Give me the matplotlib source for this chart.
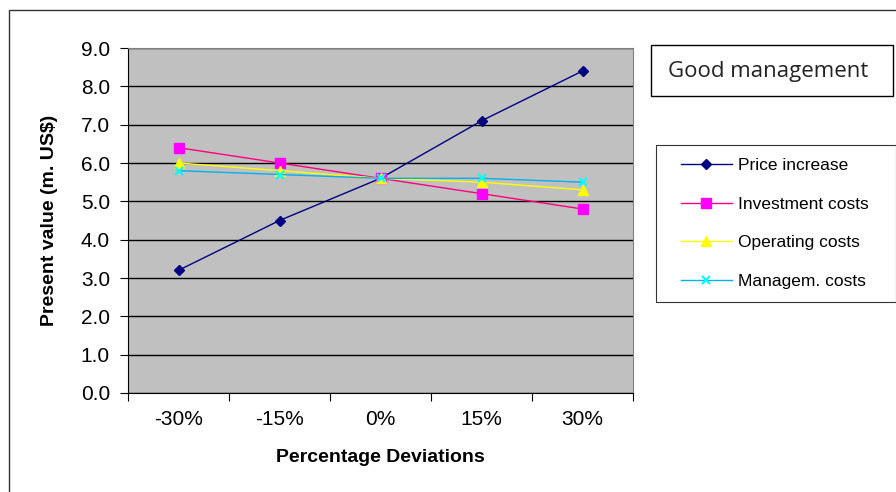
import matplotlib.pyplot as plt
from matplotlib.patches import Rectangle
from matplotlib.legend_handler import HandlerLine2D

plt.rcParams['font.family'] = ['Liberation Sans', 'DejaVu Sans']

# data
categories = ['-30%', '-15%', '0%', '15%', '30%']
price = [3.2, 4.5, 5.6, 7.1, 8.4]
investment = [6.4, 6.0, 5.6, 5.2, 4.8]
operating = [6.0, 5.8, 5.6, 5.5, 5.3]
managem = [5.8, 5.7, 5.6, 5.6, 5.5]

W, H = 896, 492
fig = plt.figure(figsize=(W / 100, H / 100), dpi=100)
ax = fig.add_axes([128/W, 1 - 393/H, (633 - 128)/W, (393 - 48)/H])
ax.set_facecolor('#C0C0C0')

x = list(range(len(categories)))
ax.plot(x, price, '-', color='#000080', lw=1, marker='D', ms=5, label='Price increase')
ax.plot(x, investment, '-', color='#FF0080', lw=1, marker='s', ms=7,
        mfc='#FF00FF', mec='#FF00FF', label='Investment costs')
ax.plot(x, operating, '-', color='#FFFF00', lw=1, marker='^', ms=7,
        mfc='#FFFF00', mec='#FFFF00', label='Operating costs')
ax.plot(x, managem, '-', color='#00B0F0', lw=1, marker='x', ms=6, mew=1.5,
        mec='#00FFFF', label='Managem. costs')

ax.set_ylim(0, 9)
ax.set_yticks(range(0, 10))
ax.set_yticklabels([f'{v:.1f}' for v in range(0, 10)], fontsize=15)
ax.yaxis.grid(True, color='black', lw=1)
ax.set_axisbelow(True)

ax.set_xlim(-0.5, 4.5)
ax.set_xticks([i - 0.5 for i in range(6)])
ax.set_xticklabels([])
ax.set_xticks(x, minor=True)
ax.set_xticklabels(categories, minor=True, fontsize=15)
ax.tick_params(axis='x', which='minor', length=0, pad=12)
ax.tick_params(axis='x', which='major', length=6, direction='out')
ax.tick_params(axis='y', length=6, direction='out', pad=7)

for s in ['top', 'right']:
    ax.spines[s].set_color('#808080')
ax.spines['left'].set_color('black')
ax.spines['bottom'].set_color('black')

ax.set_xlabel('Percentage Deviations', fontsize=14, fontweight='bold', labelpad=15)
ax.set_ylabel('Present value (m. US$)', fontsize=14, fontweight='bold', labelpad=16)

leg = fig.legend(loc='upper left', bbox_to_anchor=(656/W, 1 - 145/H, 240/W, 0),
                 mode='expand', borderaxespad=0,
                 fontsize=12.5, frameon=True, fancybox=False, edgecolor='black',
                 handlelength=3.6, handletextpad=0.4, labelspacing=1.35,
                 borderpad=0.75,
                 handler_map={plt.Line2D: HandlerLine2D(xpad=0.7)})
leg.get_frame().set_linewidth(0.8)

fig.patches.append(Rectangle((651/W, 1 - 96/H), (893 - 651)/W, 51/H,
                             transform=fig.transFigure, fc='white', ec='black', lw=1))
fig.text(768/W, 1 - 71/H, 'Good management', fontsize=16, family='Open Sans',
         color='#222222', ha='center', va='center')

fig.patches.append(Rectangle((9/W, -0.1), 1.2, 1 - 10/H + 0.1,
                             transform=fig.transFigure, fill=False,
                             ec='#333333', lw=1))

fig.savefig('out.png', dpi=100)
